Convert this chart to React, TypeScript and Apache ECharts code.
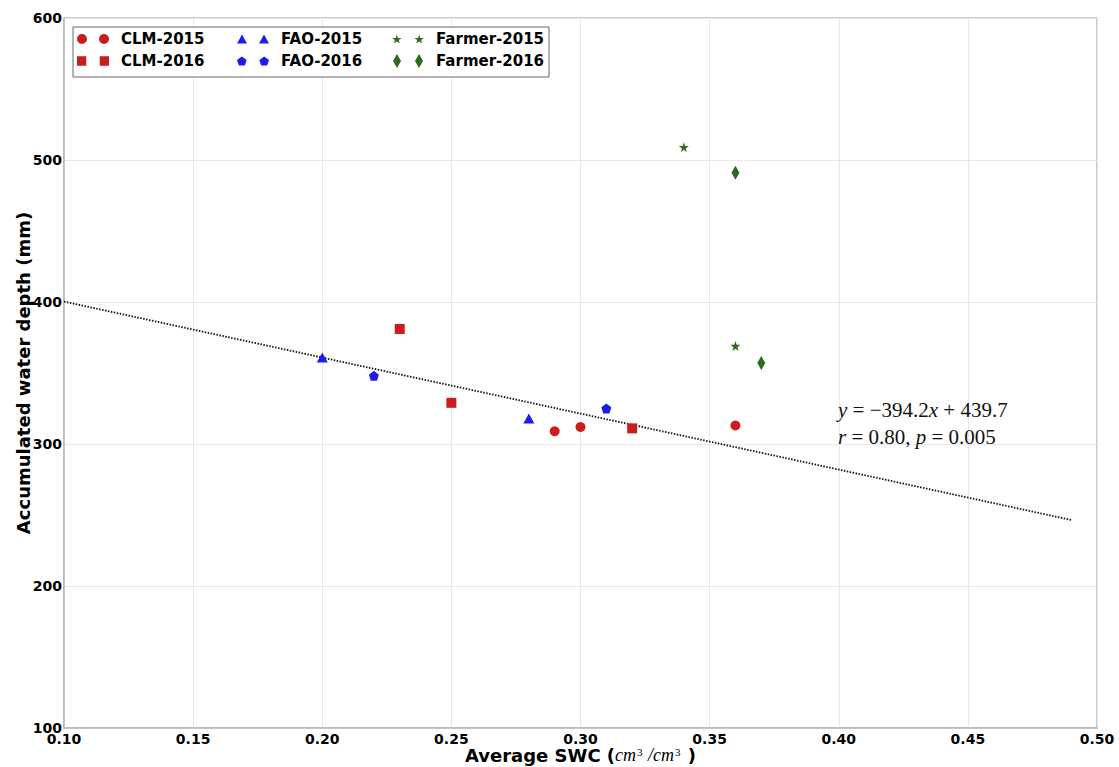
import React, { useEffect, useRef } from "react";
import * as echarts from "echarts";

// ---- data ----
const xTickValues = [0.1, 0.15, 0.2, 0.25, 0.3, 0.35, 0.4, 0.45, 0.5];
const yTickValues = [100, 200, 300, 400, 500, 600];
const clm2015 = [[0.29, 309], [0.30, 312], [0.36, 313]];
const clm2016 = [[0.23, 381], [0.25, 329], [0.32, 311]];
const fao2015 = [[0.20, 361], [0.28, 318]];
const fao2016 = [[0.22, 348], [0.31, 325]];
const farmer2015 = [[0.34, 509], [0.36, 369]];
const farmer2016 = [[0.36, 491], [0.37, 357]];
const fitLine = [[0.10, 400.3], [0.49, 246.5]];
const fitEquation = ["y", " = \u2212394.2", "x", " + 439.7"];
const fitStats = ["r", " = 0.80, ", "p", " = 0.005"];

const RED = "#cc1d1d";
const BLUE = "#1c1cf0";
const GREEN = "#2e6b1f";

// ---- marker shapes ----
const PENT = [0, 1, 2, 3, 4].map((k) => {
  const a = ((-90 + k * 72) * Math.PI) / 180;
  return [Math.cos(a), Math.sin(a)];
});
const STAR = Array.from({ length: 10 }, (_, k) => {
  const a = ((-90 + k * 36) * Math.PI) / 180;
  const r = k % 2 === 0 ? 1 : 0.382;
  return [r * Math.cos(a), r * Math.sin(a)];
});
const TRI = [[0, -1], [1, 1], [-1, 1]];
const DIAM = [[0, -1], [1, 0], [0, 1], [-1, 0]];
const SQ = [[-1, -1], [1, -1], [1, 1], [-1, 1]];

function poly(pts: number[][], cx: number, cy: number, rx: number, ry: number) {
  return (
    pts
      .map((p, i) => `${i === 0 ? "M" : "L"}${(cx + p[0] * rx).toFixed(3)},${(cy + p[1] * ry).toFixed(3)}`)
      .join(" ") + " Z"
  );
}
function circ(cx: number, cy: number, r: number) {
  return `M${cx - r},${cy} A${r},${r} 0 1,0 ${cx + r},${cy} A${r},${r} 0 1,0 ${cx - r},${cy} Z`;
}
const symPent = "path://" + poly(PENT, 0, 0, 1, 1);
const symStar = "path://" + poly(STAR, 0, 0, 1, 1);

const ICON_GAP = 22;
const iconCircle = "path://" + circ(5, 5, 5) + " " + circ(5 + ICON_GAP, 5, 5);
const iconSquare = "path://" + poly(SQ, 5, 5, 4.5, 4.5) + " " + poly(SQ, 5 + ICON_GAP, 5, 4.5, 4.5);
const iconTri = "path://" + poly(TRI, 5, 5, 5, 4.5) + " " + poly(TRI, 5 + ICON_GAP, 5, 5, 4.5);
const iconPent = "path://" + poly(PENT, 5, 5, 5, 5) + " " + poly(PENT, 5 + ICON_GAP, 5, 5, 5);
const iconStar = "path://" + poly(STAR, 5, 5, 5, 5) + " " + poly(STAR, 5 + ICON_GAP, 5, 5, 5);
const iconDiam = "path://" + poly(DIAM, 5, 7, 4, 7) + " " + poly(DIAM, 5 + ICON_GAP, 7, 4, 7);

const FONT = "DejaVu Sans";

function legendCol(left: number, names: string[], icons: string[], ih: number) {
  return {
    orient: "vertical",
    left,
    top: 30,
    padding: 0,
    itemGap: 4,
    itemWidth: 32,
    itemHeight: ih,
    selectedMode: false,
    data: names.map((n, i) => ({ name: n, icon: icons[i] })),
    textStyle: {
      fontFamily: FONT,
      fontWeight: "bold",
      fontSize: 15,
      color: "#000",
      lineHeight: 18,
      padding: [0, 0, 0, 7],
    },
  };
}

export default function App() {
  const ref = useRef<HTMLDivElement>(null);
  useEffect(() => {
    document.body.style.margin = "0";
    const chart = echarts.init(ref.current!, null, { renderer: "svg" });
    const scatter = (name: string, data: number[][], symbol: string, size: any, color: string) => ({
      name,
      type: "scatter",
      data,
      symbol,
      symbolSize: size,
      itemStyle: { color, opacity: 1 },
      z: 5,
    });
    const mathRich = {
      i: { fontFamily: "Liberation Serif", fontStyle: "italic", fontSize: 21, fill: "#111" },
      n: { fontFamily: "Liberation Serif", fontSize: 21, fill: "#111" },
    };
    chart.setOption({
      animation: false,
      backgroundColor: "#fff",
      grid: {
        left: 64,
        right: 22,
        top: 18,
        bottom: 39,
        outerBoundsMode: "none",
        containLabel: false,
        show: true,
        borderColor: "#b8b8b8",
        borderWidth: 1.5,
      },
      legend: [
        legendCol(77, ["CLM-2015", "CLM-2016"], [iconCircle, iconSquare], 10),
        legendCol(237, ["FAO-2015", "FAO-2016"], [iconTri, iconPent], 10),
        legendCol(392, ["Farmer-2015", "Farmer-2016"], [iconStar, iconDiam], 14),
      ],
      xAxis: {
        type: "value",
        min: xTickValues[0],
        max: xTickValues[xTickValues.length - 1],
        interval: 0.05,
        name: "{b|Average SWC (}{i|cm}{s|3}{i| /cm}{s|3}{b| )}",
        nameLocation: "middle",
        nameGap: 18,
        nameMoveOverlap: false,
        nameTextStyle: {
          rich: {
            b: { fontFamily: FONT, fontWeight: "bold", fontSize: 18, color: "#000", verticalAlign: "bottom", lineHeight: 18 },
            i: { fontFamily: "Liberation Serif", fontStyle: "italic", fontSize: 18, color: "#000", verticalAlign: "bottom", lineHeight: 18 },
            s: { fontFamily: "Liberation Serif", fontSize: 11, color: "#000", verticalAlign: "top", lineHeight: 18, padding: [0, 1, 0, 1] },
          },
        },
        axisLine: { show: true, lineStyle: { color: "#b8b8b8", width: 1.5 } },
        axisTick: { show: false },
        axisLabel: {
          margin: 4,
          fontFamily: FONT,
          fontWeight: "bold",
          fontSize: 14,
          color: "#000",
          formatter: (v: number) => v.toFixed(2),
        },
        splitLine: { show: true, lineStyle: { color: "#e8e8e8", width: 1 } },
      },
      yAxis: {
        type: "value",
        min: yTickValues[0],
        max: yTickValues[yTickValues.length - 1],
        interval: 100,
        name: "Accumulated water depth (mm)",
        nameLocation: "middle",
        nameGap: 32,
        nameMoveOverlap: false,
        nameTextStyle: { fontFamily: FONT, fontWeight: "bold", fontSize: 18, color: "#000" },
        axisLine: { show: true, lineStyle: { color: "#b8b8b8", width: 1.5 } },
        axisTick: { show: false },
        axisLabel: { margin: 2, fontFamily: FONT, fontWeight: "bold", fontSize: 14, color: "#000" },
        splitLine: { show: true, lineStyle: { color: "#e8e8e8", width: 1 } },
      },
      graphic: [
        {
          type: "rect",
          z: 3,
          shape: { x: 73, y: 27, width: 476, height: 50 },
          style: { fill: "#fff", stroke: "#666", lineWidth: 1 },
        },
        {
          type: "text",
          z: 6,
          left: 838,
          top: 399,
          style: {
            text: `{i|${fitEquation[0]}}{n|${fitEquation[1]}}{i|${fitEquation[2]}}{n|${fitEquation[3]}}`,
            rich: mathRich,
          },
        },
        {
          type: "text",
          z: 6,
          left: 838,
          top: 426,
          style: {
            text: `{i|${fitStats[0]}}{n|${fitStats[1]}}{i|${fitStats[2]}}{n|${fitStats[3]}}`,
            rich: mathRich,
          },
        },
      ],
      series: [
        {
          name: "fit",
          type: "line",
          data: fitLine,
          symbol: "none",
          lineStyle: { color: "#111", width: 1.8, type: [1.5, 1.5] },
          z: 4,
        },
        scatter("CLM-2015", clm2015, "circle", 10, RED),
        scatter("CLM-2016", clm2016, "rect", 10, RED),
        scatter("FAO-2015", fao2015, "triangle", [11, 10], BLUE),
        scatter("FAO-2016", fao2016, symPent, 10, BLUE),
        scatter("Farmer-2015", farmer2015, symStar, 10, GREEN),
        scatter("Farmer-2016", farmer2016, "diamond", [8, 14], GREEN),
      ],
    });
    return () => chart.dispose();
  }, []);
  return <div ref={ref} style={{ width: 1119, height: 767 }} />;
}
